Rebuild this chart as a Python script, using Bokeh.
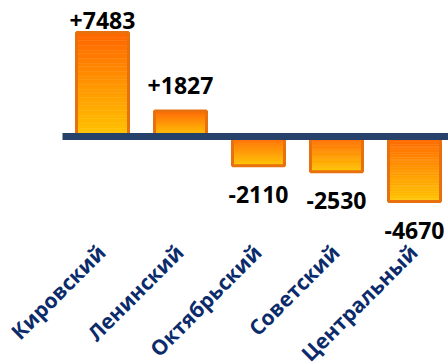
import math
from bokeh.plotting import figure
from bokeh.models import Range1d, ColumnDataSource
from bokeh.core.properties import value
from bokeh.embed import file_html
from bokeh.resources import INLINE

districts = ["Кировский", "Ленинский", "Октябрьский", "Советский", "Центральный"]
changes = [7483, 1827, -2110, -2530, -4670]
labels = ["+7483", "+1827", "-2110", "-2530", "-4670"]

W, H = 448, 363
PX_X = 78.0          # px per category
PX_Y = 0.0139        # px per unit
X0 = -102.0 / PX_X
X1 = X0 + W / PX_X
Y1 = 136.0 / PX_Y
Y0 = Y1 - H / PX_Y

p = figure(width=W, height=H, output_backend="svg", toolbar_location=None,
           x_range=Range1d(X0, X1), y_range=Range1d(Y0, Y1),
           min_border=0, min_border_left=0, min_border_right=0,
           min_border_top=0, min_border_bottom=0)
p.axis.visible = False
p.grid.visible = False
p.outline_line_color = None
p.background_fill_color = "white"
p.border_fill_color = "white"

# gradient bars
top_c = (255, 102, 0)
bot_c = (255, 196, 0)
N = 40
half = 0.333
L, R, T, B, C = [], [], [], [], []
for i, v in enumerate(changes):
    top = max(v, 0)
    bot = min(v, 0)
    for j in range(N):
        st = top - (top - bot) * j / N
        sb = top - (top - bot) * (j + 1) / N
        t = (j + 0.5) / N
        col = tuple(int(round(a + (b - a) * t)) for a, b in zip(top_c, bot_c))
        L.append(i - half); R.append(i + half); T.append(st); B.append(sb)
        C.append("#%02x%02x%02x" % col)
p.quad(left=L, right=R, top=T, bottom=B, fill_color=C, line_color=C, line_width=0.5)

src = ColumnDataSource(dict(
    l=[i - half for i in range(len(changes))],
    r=[i + half for i in range(len(changes))],
    t=[max(v, 0) for v in changes],
    b=[min(v, 0) for v in changes],
))
p.quad(left="l", right="r", top="t", bottom="b", source=src,
       fill_alpha=0, line_color="#E8710E", line_width=3)

# zero axis line
p.segment(x0=[X0 + 62.0 / PX_X], x1=[X1 + 1], y0=[0], y1=[0],
          line_color="#27426A", line_width=7)

# value labels
cap_top = Y1 - 20.0 / PX_Y
xs, ys, ts = [], [], []
for i, (v, lab) in enumerate(zip(changes, labels)):
    xs.append(i)
    if v >= 0:
        ys.append(min(v + 26.0 / PX_Y, cap_top))
    else:
        ys.append(v - 29.0 / PX_Y)
    ts.append(lab)
p.text(x=xs, y=ys, text=ts,
       text_font=value("Open Sans"), text_font_style="bold",
       text_font_size="23px", text_color="black",
       text_align="center", text_baseline="alphabetic")

# category labels
cat_y = Y1 - 248.0 / PX_Y
p.text(x=[i - 1.0 / PX_X for i in range(len(districts))], y=[cat_y] * len(districts),
       text=districts,
       angle=math.pi / 4, text_font=value("Open Sans"), text_font_style="bold",
       text_font_size="21px", text_color="#0B2B6B",
       text_align="right", text_baseline="middle")

open("out.html", "w").write(file_html(p, INLINE))
